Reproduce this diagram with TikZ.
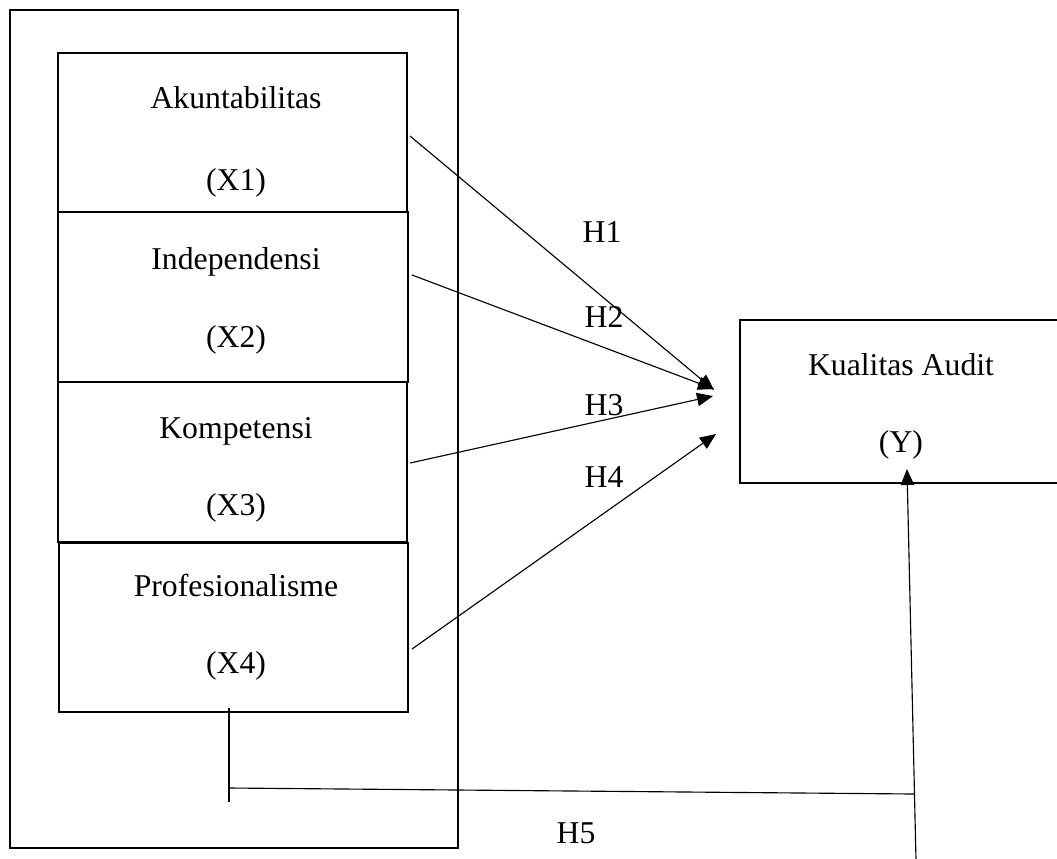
\documentclass[tikz,border=0pt]{standalone}
\usepackage{fontspec}
\setmainfont{Liberation Serif}
\usetikzlibrary{arrows.meta}
\tikzset{
  varbox/.style={draw, line width=1.8pt, rectangle, inner sep=0pt},
  outerbox/.style={draw, line width=2pt},
  lbl/.style={font=\fontsize{23.8}{28}\selectfont, anchor=base, inner sep=0pt},
  conn/.style={line width=0.85pt},
  arr/.style={conn, -{Triangle[length=12pt,width=10pt]}}
}
\begin{document}
\begin{tikzpicture}[x=0.75pt,y=-0.75pt]
\clip (0,0) rectangle (1057,858);
\fill[white] (0,0) rectangle (1057,858);
% outer frame
\node[outerbox, minimum width=448*0.75pt, minimum height=838*0.75pt] (frame) at (234,429) {};
% variable boxes
\node[varbox, minimum width=349*0.75pt, minimum height=159*0.75pt] (x1) at (232.5,132.5) {};
\node[varbox, minimum width=350*0.75pt, minimum height=170*0.75pt] (x2) at (233,297) {};
\node[varbox, minimum width=349*0.75pt, minimum height=160*0.75pt] (x3) at (232.5,462) {};
\node[varbox, minimum width=349*0.75pt, minimum height=169*0.75pt] (x4) at (233.5,627.5) {};
% dependent box (cut by the right edge)
\node[varbox, minimum width=330*0.75pt, minimum height=163*0.75pt] (y) at (905,401.5) {};
% texts
\node[lbl] (t1a) at (236,108) {Akuntabilitas};
\node[lbl] (t1b) at (236,190) {(X1)};
\node[lbl] (t2a) at (236,269) {Independensi};
\node[lbl] (t2b) at (236,347) {(X2)};
\node[lbl] (t3a) at (236,438) {Kompetensi};
\node[lbl] (t3b) at (236,515) {(X3)};
\node[lbl] (t4a) at (236,596) {Profesionalisme};
\node[lbl] (t4b) at (236,673) {(X4)};
\node[lbl] (tya) at (901,375) {Kualitas Audit};
\node[lbl] (tyb) at (901,452) {(Y)};
\node[lbl] (h1) at (602,242) {H1};
\node[lbl] (h2) at (604,327) {H2};
\node[lbl] (h3) at (604,415) {H3};
\node[lbl] (h4) at (604,487) {H4};
\node[lbl] (h5) at (576,843) {H5};
% connector end points
\coordinate (s1) at (410,136);
\coordinate (s2) at (412,275);
\coordinate (s3) at (410,463);
\coordinate (s4) at (412,649);
\coordinate (e1) at (714,390);
\coordinate (e2) at (714,389);
\coordinate (e3) at (713,396);
\coordinate (e4) at (716,434);
\draw[arr] (s1) -- (e1);
\draw[arr] (s2) -- (e2);
\draw[arr] (s3) -- (e3);
\draw[arr] (s4) -- (e4);
% H5 path
\coordinate (k1) at (229,708);
\coordinate (k2) at (229,802);
\coordinate (k3) at (229,788);
\coordinate (j) at (914,794);
\coordinate (b) at (916,860);
\coordinate (ytip) at (907,469);
\draw[conn] (k1) -- (k2);
\draw[conn] (k3) -- (j);
\draw[arr] (b) -- (ytip);
\end{tikzpicture}
\end{document}
